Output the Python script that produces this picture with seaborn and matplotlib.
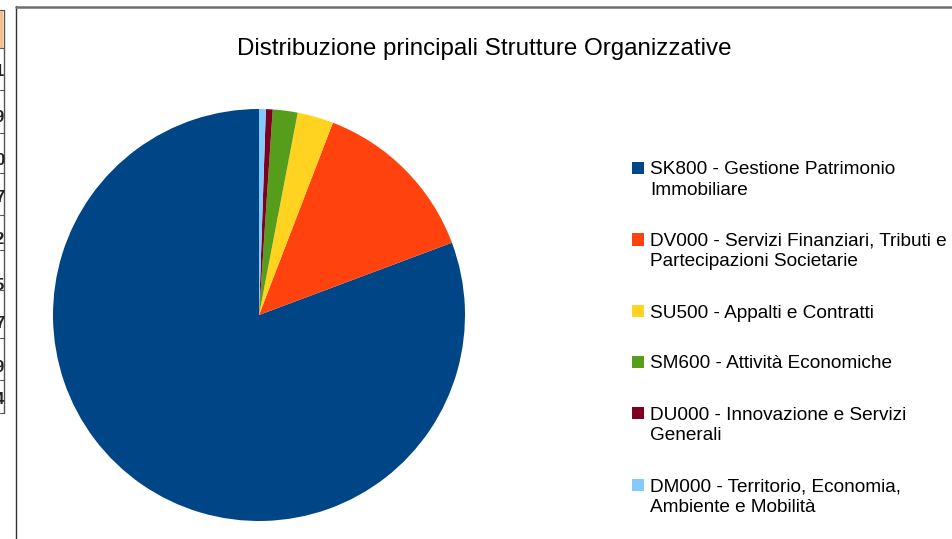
import matplotlib
matplotlib.use("Agg")
import matplotlib.pyplot as plt
import seaborn as sns
from matplotlib.lines import Line2D
from matplotlib.patches import Rectangle

# data (counts per structure)
codes = ["SK800", "DV000", "SU500", "SM600", "DU000", "DM000"]
labels = ["SK800 - Gestione Patrimonio\nImmobiliare",
          "DV000 - Servizi Finanziari, Tributi e\nPartecipazioni Societarie",
          "SU500 - Appalti e Contratti",
          "SM600 - Attività Economiche",
          "DU000 - Innovazione e Servizi\nGenerali",
          "DM000 - Territorio, Economia,\nAmbiente e Mobilità"]
counts = [456, 76, 16, 11, 3, 3]
colors = ["#004586", "#ff420e", "#ffd320", "#579d1c", "#7e0021", "#83caff"]
title = "Distribuzione principali Strutture Organizzative"

# cut-off spreadsheet cells on the left edge
cell_digits = ["1", "9", "0", "7", "2", "5", "7", "9", "4"]

sns.set_theme(style="white")
plt.rcParams['font.family'] = ['Liberation Sans', 'DejaVu Sans']

W, H = 952, 539
fig = plt.figure(figsize=(W / 100, H / 100), dpi=100)
fig.patch.set_facecolor("white")

def fx(px):
    return px / W

def fy(py):
    return 1 - py / H

# pie
ax = fig.add_axes([fx(53), 18 / H, 412 / W, 412 / H])
ax.pie(counts, colors=colors, startangle=90, counterclock=True,
       wedgeprops=dict(linewidth=0, antialiased=True))
ax.set_xlim(-1, 1)
ax.set_ylim(-1, 1)
ax.set_aspect("equal")
ax.axis("off")

# title
fig.text(fx(484), fy(49), title, ha="center", va="center", fontsize=17.4, color="#000000")

# legend, LibreOffice style (marker next to first line)
line_h = 20.5
gap = 30.5
y = 168
for lab, col in zip(labels, colors):
    lines = lab.split("\n")
    fig.patches.append(Rectangle((fx(632), fy(y + 6)), 12 / W, 12 / H,
                                 transform=fig.transFigure, facecolor=col, edgecolor="none"))
    for j, ln in enumerate(lines):
        fig.text(fx(650), fy(y + j * line_h), ln, ha="left", va="center_baseline",
                 fontsize=13.7, color="#000000")
    y += line_h * len(lines) + gap

# chart frame
fig.add_artist(Line2D([fx(16), fx(16)], [fy(6), 0], transform=fig.transFigure, color="#333333", lw=1))
fig.add_artist(Line2D([fx(16), 1], [fy(6.5), fy(6.5)], transform=fig.transFigure, color="#6e6e6e", lw=1.8))

# spreadsheet fragment at left edge
fig.patches.append(Rectangle((0, fy(48)), fx(3), (48 - 10) / H, transform=fig.transFigure,
                             facecolor="#f9bf8a", edgecolor="none"))
fig.add_artist(Line2D([fx(3.5), fx(3.5)], [fy(10), fy(413)], transform=fig.transFigure, color="#555555", lw=1))
row_lines = [10, 48, 90, 133, 173, 215, 250, 290, 338, 380, 413]
for r in row_lines:
    fig.add_artist(Line2D([0, fx(3.5)], [fy(r), fy(r)], transform=fig.transFigure, color="#555555", lw=0.8))
digit_rows = [72, 118, 160, 198, 240, 285, 323, 367, 400]
for d, r in zip(cell_digits, digit_rows):
    fig.text(fx(4), fy(r), d, ha="right", va="center", fontsize=12, fontweight="bold", color="#222222")

fig.savefig("out.png", dpi=100, facecolor="white")
